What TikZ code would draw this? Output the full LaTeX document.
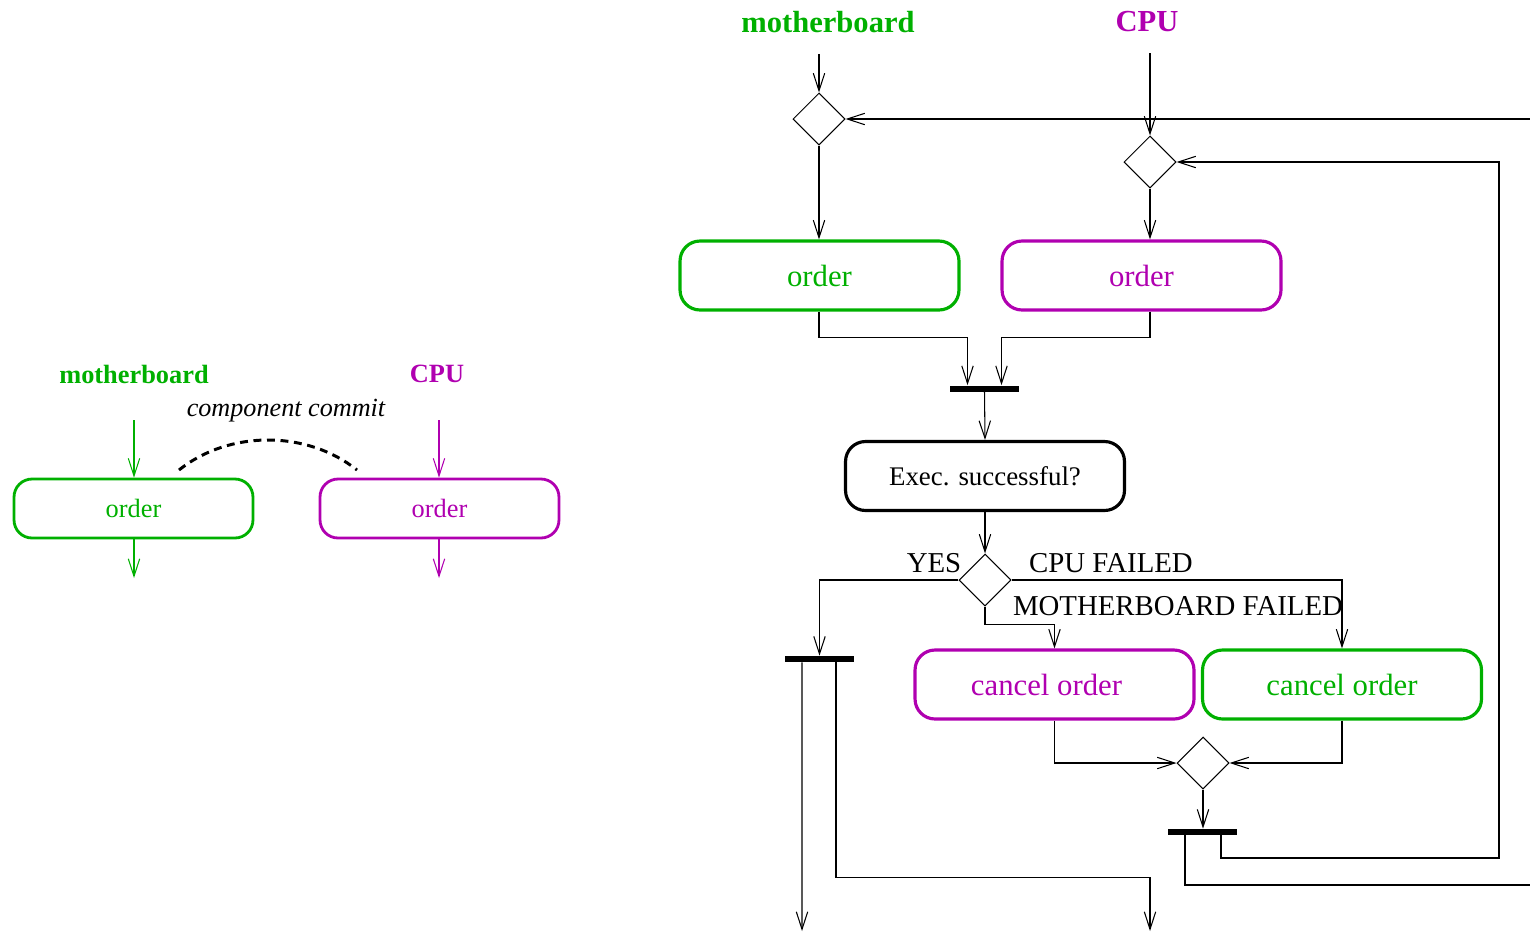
\documentclass[tikz,border=0pt]{standalone}
\usepackage{fontspec}
\setmainfont{Liberation Serif}
\usetikzlibrary{arrows.meta,shapes.geometric,calc}
\definecolor{cgreen}{RGB}{0,176,0}
\definecolor{cmag}{RGB}{176,0,176}
\begin{document}
\begin{tikzpicture}[x=0.02cm,y=-0.02cm,
  thin line/.style={line width=0.6pt},
  arr/.style={thin line,-{Straight Barb[length=10pt,width=6.5pt,line width=0.6pt]}},
  act/.style={draw,rounded corners=0.4cm,line width=1.8pt,inner sep=0pt,
    minimum width=5.58cm,minimum height=1.38cm,font=\fontsize{17.5}{20}\selectfont},
  actsmall/.style={draw,rounded corners=0.36cm,line width=1.6pt,inner sep=0pt,
    minimum width=4.78cm,minimum height=1.18cm,font=\fontsize{15}{18}\selectfont},
  choice/.style={draw,diamond,thin line,inner sep=0pt,minimum width=1.04cm,
    minimum height=1.04cm,aspect=1},
  sync/.style={fill=black,inner sep=0pt,minimum width=1.38cm,minimum height=0.12cm},
  lane/.style={font=\bfseries\fontsize{17.4}{20}\selectfont},
  lanesmall/.style={font=\bfseries\fontsize{15}{18}\selectfont},
  guard/.style={font=\fontsize{16.4}{19}\selectfont}]
\useasboundingbox (0,0) rectangle (1530,931);

% ---- left: two component orders joined by a commit ----
\node[lanesmall,text=cgreen] (mbL) at (134,374) {motherboard};
\node[lanesmall,text=cmag] (cpuL) at (437,374) {CPU};
\node[font=\itshape\fontsize{14.9}{18}\selectfont] (commit) at (286,411) {component commit};
\node[actsmall,draw=cgreen,text=cgreen] (gL) at (133.5,508.5) {order};
\node[actsmall,draw=cmag,text=cmag] (mL) at (439.5,508.5) {order};
\coordinate (gLin) at (134,420);
\coordinate (mLin) at (439,420);
\coordinate (gLout) at (134,578);
\coordinate (mLout) at (439,578);
\draw[arr,cgreen] (gLin) -- (gL.north -| gLin);
\draw[arr,cmag] (mLin) -- (mL.north -| mLin);
\draw[arr,cgreen] (gL.south -| gLout) -- (gLout);
\draw[arr,cmag] (mL.south -| mLout) -- (mLout);
\draw[line width=1.7pt,dash pattern=on 4.5pt off 3.2pt]
  (179,470) .. controls (229,430) and (307,430) .. (357,470);

% ---- right: activity diagram ----
\node[lane,text=cgreen] (mbR) at (828,22) {motherboard};
\node[lane,text=cmag] (cpuR) at (1147,22) {CPU};
\node[choice] (D1) at (819,119) {};
\node[choice] (D2) at (1150,162) {};
\node[act,draw=cgreen,text=cgreen] (gOrd) at (819.5,275.5) {order};
\node[act,draw=cmag,text=cmag] (mOrd) at (1141.5,275.5) {order};
\node[sync] (bar1) at (984.5,388.5) {};
\node[act,font=\fontsize{15.3}{18}\selectfont] (exec) at (985,476) {Exec. successful?};
\node[choice] (D3) at (985,580) {};
\node[sync] (bar2) at (819.5,659) {};
\node[act,draw=cmag,text=cmag] (mCan) at (1054.5,684.5) {cancel order\kern0.32cm};
\node[act,draw=cgreen,text=cgreen] (gCan) at (1342,684.5) {cancel order};
\node[choice] (D4) at (1203,763) {};
\node[sync] (bar3) at (1202.5,832) {};

\node[guard] (yes) at (934,563) {YES};
\node[guard] (cpuF) at (1111,563) {CPU FAILED};
\node[guard] (mbF) at (1178,606) {MOTHERBOARD FAILED};

\coordinate (edgeA) at (1530,119);
\coordinate (loopB) at (1499,858);
\coordinate (edgeB) at (1530,885);
\coordinate (exitA) at (802,931);
\coordinate (exitB) at (1150,931);

\draw[arr] ([yshift=-0.3cm]mbR.south -| D1.north) -- (D1.north);
\draw[arr] ([yshift=-0.3cm]cpuR.south -| D2.north) -- (D2.north);
\draw[arr] (edgeA) -- (D1.east);
\draw[arr] (D1.south) -- (gOrd.north -| D1.south);
\draw[arr] (D2.south) -- (mOrd.north -| D2.south);
\draw[arr] (gOrd.south -| D1.south) -- ++(0,26) -| ([xshift=-0.34cm]bar1.north);
\draw[arr] (mOrd.south -| D2.south) -- ++(0,26) -| ([xshift=0.34cm]bar1.north);
\draw[arr] (bar1.south) -- (exec.north);
\draw[arr] (exec.south) -- (D3.north);
\draw[arr] (D3.west) -| (bar2.north);
\draw[arr] (D3.east) -| (gCan.north);
\draw[arr] (D3.south) -- ++(0,18) -| (mCan.north);
\draw[arr] (mCan.south) |- (D4.west);
\draw[arr] (gCan.south) |- (D4.east);
\draw[arr] (D4.south) -- (bar3.north -| D4.south);
\draw[arr] ([xshift=0.37cm]bar3.south) |- (loopB) |- (D2.east);
\draw[thin line] ([xshift=-0.35cm]bar3.south) |- (edgeB);
\draw[arr] ([xshift=-0.35cm]bar2.south) -- (exitA);
\draw[arr] ([xshift=0.33cm]bar2.south) -- ++(0,215) -| (exitB);
\end{tikzpicture}
\end{document}
